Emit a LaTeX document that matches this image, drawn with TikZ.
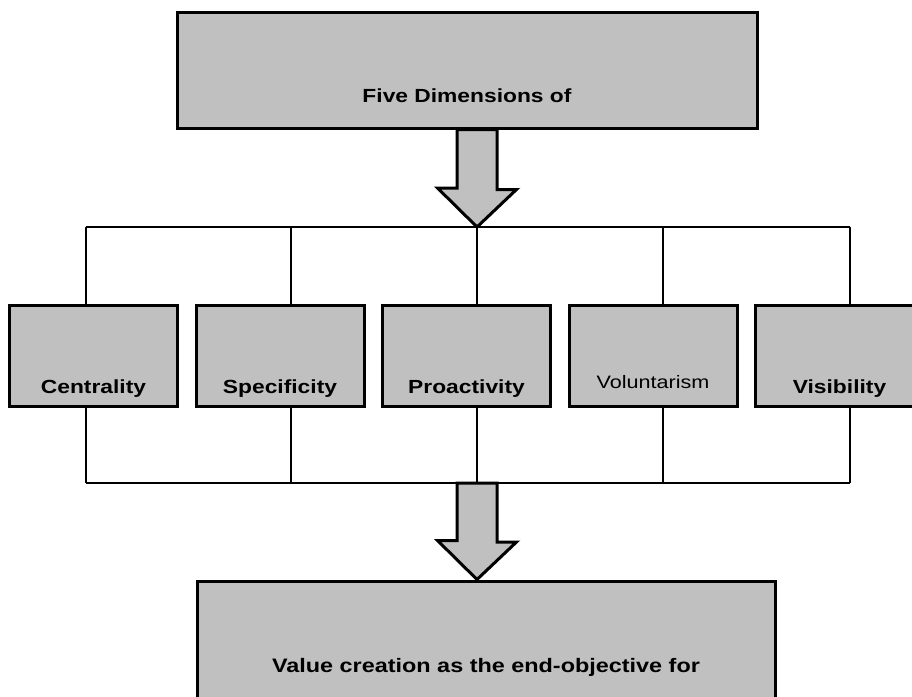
\documentclass[tikz,border=0pt]{standalone}
\usepackage{fontspec}
\setmainfont{Liberation Sans}[FakeStretch=1.2]
\usepackage{tikz}
\usetikzlibrary{positioning, calc}
\definecolor{boxgray}{RGB}{192,192,192}
\tikzstyle{headbox} = [rectangle, minimum width=580pt, inner sep=0pt, text height=90pt, text depth=26pt, text centered, draw=black, line width=3pt, fill=boxgray, font=\fontsize{19}{22}\selectfont\bfseries]
\tikzstyle{dimbox} = [rectangle, minimum width=168pt, inner sep=0pt, text height=88pt, text depth=13pt, text centered, draw=black, line width=3pt, fill=boxgray, font=\fontsize{19}{22}\selectfont\bfseries]
\tikzstyle{wire} = [draw=black, line width=2.7pt]
\tikzstyle{bigarrow} = [draw=black, line width=3pt, fill=boxgray, line join=miter]

\begin{document}
\begin{tikzpicture}[x=1pt, y=-1pt, node distance=186.5pt]
\clip (0,0) rectangle (912,696);

\node (top) [headbox] at (467,70) {Five Dimensions of};
\node (cen) [dimbox] at (93.5,356) {Centrality};
\node (spe) [dimbox, right of=cen] {Specificity};
\node (pro) [dimbox, right of=spe] {Proactivity};
\node (vol) [dimbox, right of=pro, text height=83pt, text depth=18pt, font=\fontsize{18}{21}\selectfont] {Voluntarism};
\node (vis) [dimbox, right of=vol] {Visibility};
\node (bot) [headbox, text height=91pt, text depth=31pt, minimum width=578pt, font=\fontsize{19.5}{22}\selectfont\bfseries] at (486,642) {Value creation as the end-objective for};

\coordinate (tl) at (86,227);
\coordinate (tr) at (850,227);
\coordinate (bl) at (86,483);
\coordinate (br) at (850,483);
\coordinate (hub) at (477,227);
\coordinate (hubb) at (477,483);

\foreach \n/\dx in {cen/-7.5, spe/11, pro/10.5, vol/10, vis/10.5} {
  \draw [wire] ([xshift=\dx pt]\n.north) -- ([xshift=\dx pt]\n.north |- tl);
  \draw [wire] ([xshift=\dx pt]\n.south) -- ([xshift=\dx pt]\n.south |- bl);
}

\draw [bigarrow] (hub) -- ++(-39.5,-39) -- ++(19.5,0) -- ([xshift=-20pt]top.south -| hub) -- ([xshift=20pt]top.south -| hub) -- ++(0,60) -- ++(19.5,0) -- cycle;
\draw [bigarrow] (bot.north -| hubb) -- ++(-39.5,-39) -- ++(19.5,0) -- ([xshift=-20pt]hubb) -- ([xshift=20pt]hubb) -- ++(0,59) -- ++(19.5,0) -- cycle;

\draw [wire] (tl) -- (tr);
\draw [wire] (bl) -- (br);

\end{tikzpicture}
\end{document}
